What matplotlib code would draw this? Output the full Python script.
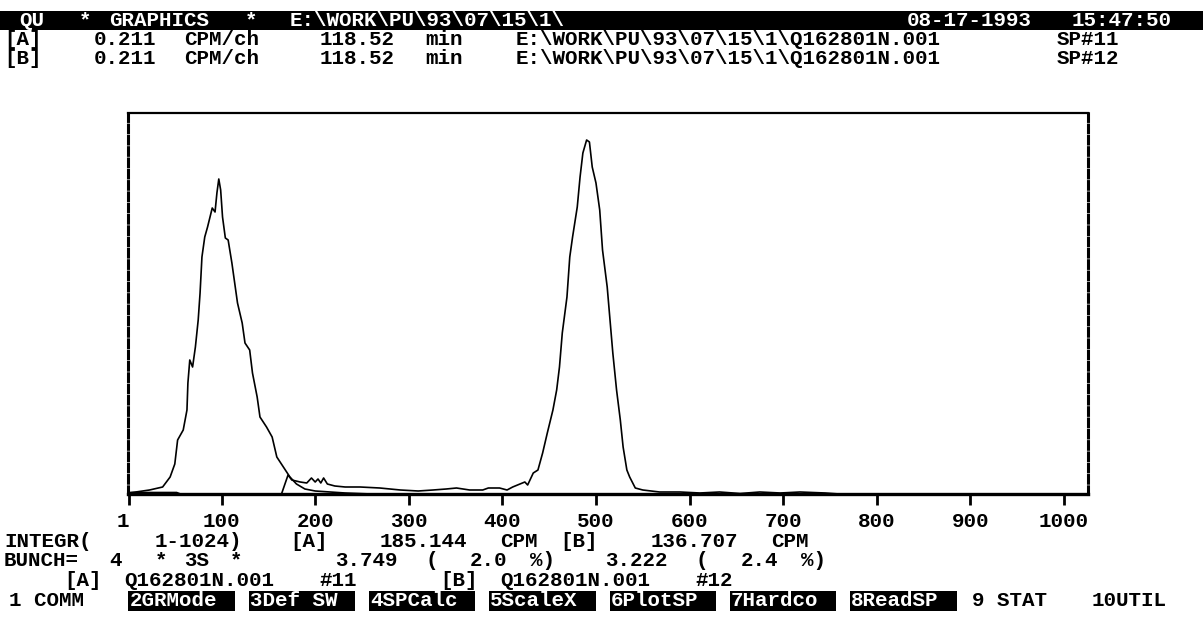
import re
import matplotlib.pyplot as plt
from matplotlib.patches import Rectangle

# spectrum [A] (SP#11): channel / counts (screen units)
ch_a = [1, 23, 37, 45, 50, 53, 59, 63, 64, 66, 69, 72, 75, 77, 79, 82, 85, 90, 93, 95,
        97, 99, 101, 104, 107, 111, 114, 117, 122, 125, 130, 133, 138, 141, 148, 154,
        159, 166, 173, 180, 189, 200, 216, 232, 260, 1024]
cnt_a = [1, 4, 7, 17, 30, 54, 64, 84, 111, 134, 127, 147, 174, 201, 237, 257, 267, 286, 282, 301,
         315, 304, 277, 256, 254, 231, 211, 191, 171, 151, 144, 121, 97, 77, 67, 57,
         37, 27, 17, 10, 5, 3, 2, 1, 0, 0]

# spectrum [B] (SP#12)
ch_b = [1, 52, 56, 164, 171, 175, 184, 191, 196, 200, 203, 206, 209, 213, 221, 232, 248, 269,
        291, 310, 326, 340, 351, 365, 379, 385, 397, 405, 411, 424, 427, 433, 438, 443, 448,
        454, 458, 461, 464, 469, 472, 475, 480, 483, 486, 490, 493, 496, 500, 504, 507, 512,
        515, 518, 522, 526, 529, 533, 536, 542, 550, 568, 590, 611, 632, 654, 675, 697, 718,
        745, 760, 1024]
cnt_b = [1.5, 1.5, 0, 0, 19, 14, 12, 11, 16, 12, 15, 11, 16, 10, 8, 7, 7, 6,
         4, 3, 4, 5, 6, 4, 4, 6, 6, 4, 7, 12, 9, 21, 24, 41, 61,
         84, 104, 127, 161, 197, 237, 257, 287, 317, 341, 354, 352, 327, 311, 284, 244, 207,
         174, 141, 104, 74, 47, 24, 17, 6, 4, 2, 2, 1, 2, 0.5, 2, 1, 2,
         1, 0, 0]

tick_vals = [1, 100, 200, 300, 400, 500, 600, 700, 800, 900, 1000]

header_left = " QU  * GRAPHICS *  E:\\WORK\\PU\\93\\07\\15\\1\\"
header_right = "08-17-1993 15:47:50"
line_a = "[A]   0.211 CPM/ch   118.52 min   E:\\WORK\\PU\\93\\07\\15\\1\\Q162801N.001  SP#11"
line_b = "[B]   0.211 CPM/ch   118.52 min   E:\\WORK\\PU\\93\\07\\15\\1\\Q162801N.001  SP#12"
line_integr = "INTEGR(   1-1024)  [A]   185.144 CPM [B]   136.707 CPM"
line_bunch = "BUNCH= 4  * 3S *      3.749 (  2.0 %)   3.222 (  2.4 %)"
line_files = "    [A] Q162801N.001 #11     [B] Q162801N.001 #12"
fkeys = ["1 COMM", "2GRMode", "3Def SW", "4SPCalc", "5ScaleX",
         "6PlotSP", "7Hardco", "8ReadSP", "9 STAT", "10UTIL"]
fkeys_inv = [False, True, True, True, True, True, True, True, False, False]

W, H = 1203, 632
CW = 15.04          # text cell width in px
X0 = 4
FONT = dict(family=['Liberation Mono', 'DejaVu Sans Mono'], weight='bold', size=15)

fig = plt.figure(figsize=(W / 100, H / 100), dpi=100)


def put_line(s, y, x0=X0, color='black'):
    # one text per word, each word placed on its character column
    for m in re.finditer(r'\S+', s):
        fig.text((x0 + m.start() * CW) / W, 1 - y / H, m.group(), color=color,
                 ha='left', va='center', **FONT)


# header bar
fig.patches.append(Rectangle((0, 1 - 30 / H), 1, 19 / H, transform=fig.transFigure,
                             facecolor='black', edgecolor='none'))
put_line(header_left, 20.5, color='white')
put_line(header_right, 20.5, x0=X0 + 60 * CW, color='white')
put_line(line_a, 39.5)
put_line(line_b, 58.5)

# spectra
ax = fig.add_axes([128 / W, 1 - 494 / H, (1088 - 128) / W, (494 - 113) / H])
ax.plot(ch_a, cnt_a, color='black', lw=1.2)
ax.plot(ch_b, cnt_b, color='black', lw=1.2)
ax.set_xlim(0, 1025.7)
ax.set_ylim(0, 381)
ax.set_yticks([])
ax.set_xticks(tick_vals)
ax.set_xticklabels([str(v) for v in tick_vals], **FONT)
ax.get_xticklabels()[0].set_horizontalalignment('right')
ax.tick_params(axis='x', direction='out', length=8, width=2, pad=5, colors='black')
for side in ['left', 'right']:
    ax.spines[side].set_linewidth(2.2)
    ax.spines[side].set_linestyle((0, (2.5, 1.2)))
ax.spines['top'].set_linewidth(1.6)
ax.spines['bottom'].set_linewidth(2.4)

# summary lines under the plot
put_line(line_integr, 541.5)
put_line(line_bunch, 561)
put_line(line_files, 580.5)

# function key bar
ky = 600.5
for k, (lab, inv) in enumerate(zip(fkeys, fkeys_inv)):
    x = 9 + k * 8 * CW
    if inv:
        fig.patches.append(Rectangle(((x - 1) / W, 1 - (ky + 10) / H), (7 * CW + 1) / W, 20 / H,
                                     transform=fig.transFigure, facecolor='black',
                                     edgecolor='none'))
    fig.text(x / W, 1 - ky / H, lab, color='white' if inv else 'black',
             ha='left', va='center', **FONT)

fig.savefig('out.png', dpi=100, facecolor='white')
